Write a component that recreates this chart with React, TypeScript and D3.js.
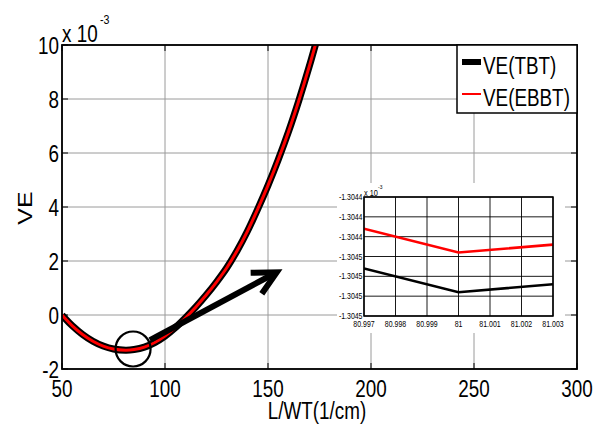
import React from 'react';
import * as d3 from 'd3';

// ---- data (VE in units of 1e-3) ----
const xVals = [50, 55, 60, 65, 70, 75, 81, 85, 90, 95, 100, 105, 110, 115, 120, 125, 130, 135, 140, 145, 150, 155, 160, 165, 170, 175];
const veTBT = [0, -0.4, -0.72, -0.97, -1.15, -1.26, -1.305, -1.28, -1.19, -1.02, -0.78, -0.47, -0.1, 0.3, 0.74, 1.22, 1.75, 2.38, 3.1, 3.92, 4.8, 5.76, 6.8, 7.95, 9.2, 10.55];
const veEBBT = [0, -0.4, -0.72, -0.97, -1.15, -1.26, -1.305, -1.28, -1.19, -1.02, -0.78, -0.47, -0.1, 0.3, 0.74, 1.22, 1.75, 2.38, 3.1, 3.92, 4.8, 5.76, 6.8, 7.95, 9.2, 10.55];
const xTicks = [50, 100, 150, 200, 250, 300];
const yTicks = [-2, 0, 2, 4, 6, 8, 10];
const seriesNames = ['VE(TBT)', 'VE(EBBT)'];

// inset (zoom near x = 81)
const insetX = [80.997, 81, 81.003];
const insetTBT = [-1.304456, -1.304468, -1.304464];
const insetEBBT = [-1.304436, -1.304448, -1.304444];
const insetXTicks = [80.997, 80.998, 80.999, 81, 81.001, 81.002, 81.003];
const insetXLabels = ['80.997', '80.998', '80.999', '81', '81.001', '81.002', '81.003'];
const insetYTicks = [-1.30448, -1.30447, -1.30446, -1.30445, -1.30444, -1.30443, -1.30442];
const insetYLabels = ['-1.3045', '-1.3045', '-1.3045', '-1.3045', '-1.3044', '-1.3044', '-1.3044'];

// annotation anchors (data space)
const circleCenter = { x: 84.5, y: -1.26 };
const arrowFrom = { x: 92.7, y: -0.93 };
const arrowTo = { x: 154.2, y: 1.58 };

const FONT = 'Liberation Sans, Arial, sans-serif';
const SX = 0.82;

function T({ x, y, size, anchor = 'start', children, rotate = false }: any) {
  const tr = rotate
    ? `translate(${x},${y}) scale(${SX},1) rotate(-90)`
    : `translate(${x},${y}) scale(${SX},1)`;
  return (
    <text transform={tr} fontSize={size} textAnchor={anchor} fontFamily={FONT} fill="#000">
      {children}
    </text>
  );
}

export default function App() {
  const L = 62, R = 577, Tp = 45, B = 369;
  const x = d3.scaleLinear().domain([50, 300]).range([L, R]);
  const y = d3.scaleLinear().domain([-2, 10]).range([B, Tp]);

  const line = d3
    .line<number>()
    .x((_, i) => x(xVals[i]))
    .y((d) => y(d))
    .curve(d3.curveCatmullRom.alpha(0.5));

  // inset scales
  const iL = 364, iR = 553, iT = 197, iB = 316;
  const ix = d3.scaleLinear().domain([80.997, 81.003]).range([iL, iR]);
  const iy = d3.scaleLinear().domain([-1.30448, -1.30442]).range([iB, iT]);
  const iline = d3
    .line<number>()
    .x((_, i) => ix(insetX[i]))
    .y((d) => iy(d));

  // arrow
  const ax0 = x(arrowFrom.x), ay0 = y(arrowFrom.y);
  const ax1 = x(arrowTo.x), ay1 = y(arrowTo.y);
  const ang = Math.atan2(ay0 - ay1, ax0 - ax1);
  const wl = 26, wa = (27 * Math.PI) / 180;
  const w1 = [ax1 + wl * Math.cos(ang + wa), ay1 + wl * Math.sin(ang + wa)];
  const w2 = [ax1 + wl * Math.cos(ang - wa), ay1 + wl * Math.sin(ang - wa)];

  const tick = 6;

  return (
    <div style={{ position: 'absolute', left: 0, top: 0 }}>
      <svg width={604} height={425} style={{ display: 'block', background: '#fff' }}>
        <defs>
          <clipPath id="mainClip">
            <rect x={L} y={Tp} width={R - L} height={B - Tp} />
          </clipPath>
          <clipPath id="insetClip">
            <rect x={iL} y={iT} width={iR - iL} height={iB - iT} />
          </clipPath>
        </defs>

        {/* grid */}
        {xTicks.map((t) => (
          <line key={'gx' + t} x1={x(t)} x2={x(t)} y1={Tp} y2={B} stroke="#9a9a9a" strokeWidth={1} />
        ))}
        {yTicks.map((t) => (
          <line key={'gy' + t} x1={L} x2={R} y1={y(t)} y2={y(t)} stroke="#9a9a9a" strokeWidth={1} />
        ))}

        {/* ticks */}
        {xTicks.map((t) => (
          <g key={'tx' + t}>
            <line x1={x(t)} x2={x(t)} y1={B} y2={B - tick} stroke="#000" strokeWidth={1} />
            <line x1={x(t)} x2={x(t)} y1={Tp} y2={Tp + tick} stroke="#000" strokeWidth={1} />
          </g>
        ))}
        {yTicks.map((t) => (
          <g key={'ty' + t}>
            <line x1={L} x2={L + tick} y1={y(t)} y2={y(t)} stroke="#000" strokeWidth={1} />
            <line x1={R} x2={R - tick} y1={y(t)} y2={y(t)} stroke="#000" strokeWidth={1} />
          </g>
        ))}

        {/* curves */}
        <g clipPath="url(#mainClip)">
          <path d={line(veTBT) || ''} fill="none" stroke="#000" strokeWidth={7} strokeLinejoin="round" />
          <path d={line(veEBBT) || ''} fill="none" stroke="#ff0000" strokeWidth={3} strokeLinejoin="round" />
        </g>

        {/* box */}
        <rect x={L} y={Tp} width={R - L} height={B - Tp} fill="none" stroke="#000" strokeWidth={1.8} />

        {/* tick labels */}
        {xTicks.map((t) => (
          <T key={'lx' + t} x={x(t)} y={397} size={23} anchor="middle">
            {t}
          </T>
        ))}
        {yTicks.map((t) => (
          <T key={'ly' + t} x={59} y={y(t) + 8.5} size={23} anchor="end">
            {t}
          </T>
        ))}
        <T x={62} y={42} size={23}>x 10</T>
        <T x={100} y={24} size={13}>-3</T>

        {/* axis labels */}
        <T x={317} y={419} size={23} anchor="middle">L/WT(1/cm)</T>
        <T x={32} y={208} size={25} anchor="middle" rotate>VE</T>

        {/* annotation circle & arrow */}
        <circle cx={x(circleCenter.x)} cy={y(circleCenter.y)} r={17.5} fill="none" stroke="#000" strokeWidth={2.2} />
        <line x1={ax0} y1={ay0} x2={ax1 + 3 * Math.cos(ang)} y2={ay1 + 3 * Math.sin(ang)} stroke="#000" strokeWidth={6} />
        <path d={`M${w1[0]},${w1[1]} L${ax1},${ay1} L${w2[0]},${w2[1]}`} fill="none" stroke="#000" strokeWidth={6} strokeLinejoin="miter" />

        {/* legend */}
        <rect x={457} y={Tp} width={R - 457} height={68} fill="#fff" stroke="#000" strokeWidth={1.5} />
        <line x1={462} x2={481} y1={62} y2={62} stroke="#000" strokeWidth={6} />
        <T x={483} y={74} size={23}>{seriesNames[0]}</T>
        <line x1={462} x2={481} y1={94} y2={94} stroke="#ff0000" strokeWidth={2} />
        <T x={483} y={106} size={23}>{seriesNames[1]}</T>

        {/* inset */}
        <rect x={337} y={183} width={228} height={150} fill="#fff" />
        {insetXTicks.map((t) => (
          <line key={'igx' + t} x1={ix(t)} x2={ix(t)} y1={iT} y2={iB} stroke="#000" strokeWidth={0.9} />
        ))}
        {insetYTicks.map((t) => (
          <line key={'igy' + t} x1={iL} x2={iR} y1={iy(t)} y2={iy(t)} stroke="#000" strokeWidth={0.9} />
        ))}
        <g clipPath="url(#insetClip)">
          <path d={iline(insetEBBT) || ''} fill="none" stroke="#ff0000" strokeWidth={2.6} />
          <path d={iline(insetTBT) || ''} fill="none" stroke="#000" strokeWidth={2.6} />
        </g>
        <rect x={iL} y={iT} width={iR - iL} height={iB - iT} fill="none" stroke="#000" strokeWidth={1.5} />
        {insetXTicks.map((t, i) => (
          <T key={'ilx' + t} x={ix(t)} y={327} size={8.5} anchor="middle">
            {insetXLabels[i]}
          </T>
        ))}
        {insetYTicks.map((t, i) => (
          <T key={'ily' + t} x={362.5} y={iy(t) + 3} size={8.5} anchor="end">
            {insetYLabels[i]}
          </T>
        ))}
        <T x={364} y={196} size={9}>x 10</T>
        <T x={378} y={189} size={6}>-3</T>
      </svg>
    </div>
  );
}
